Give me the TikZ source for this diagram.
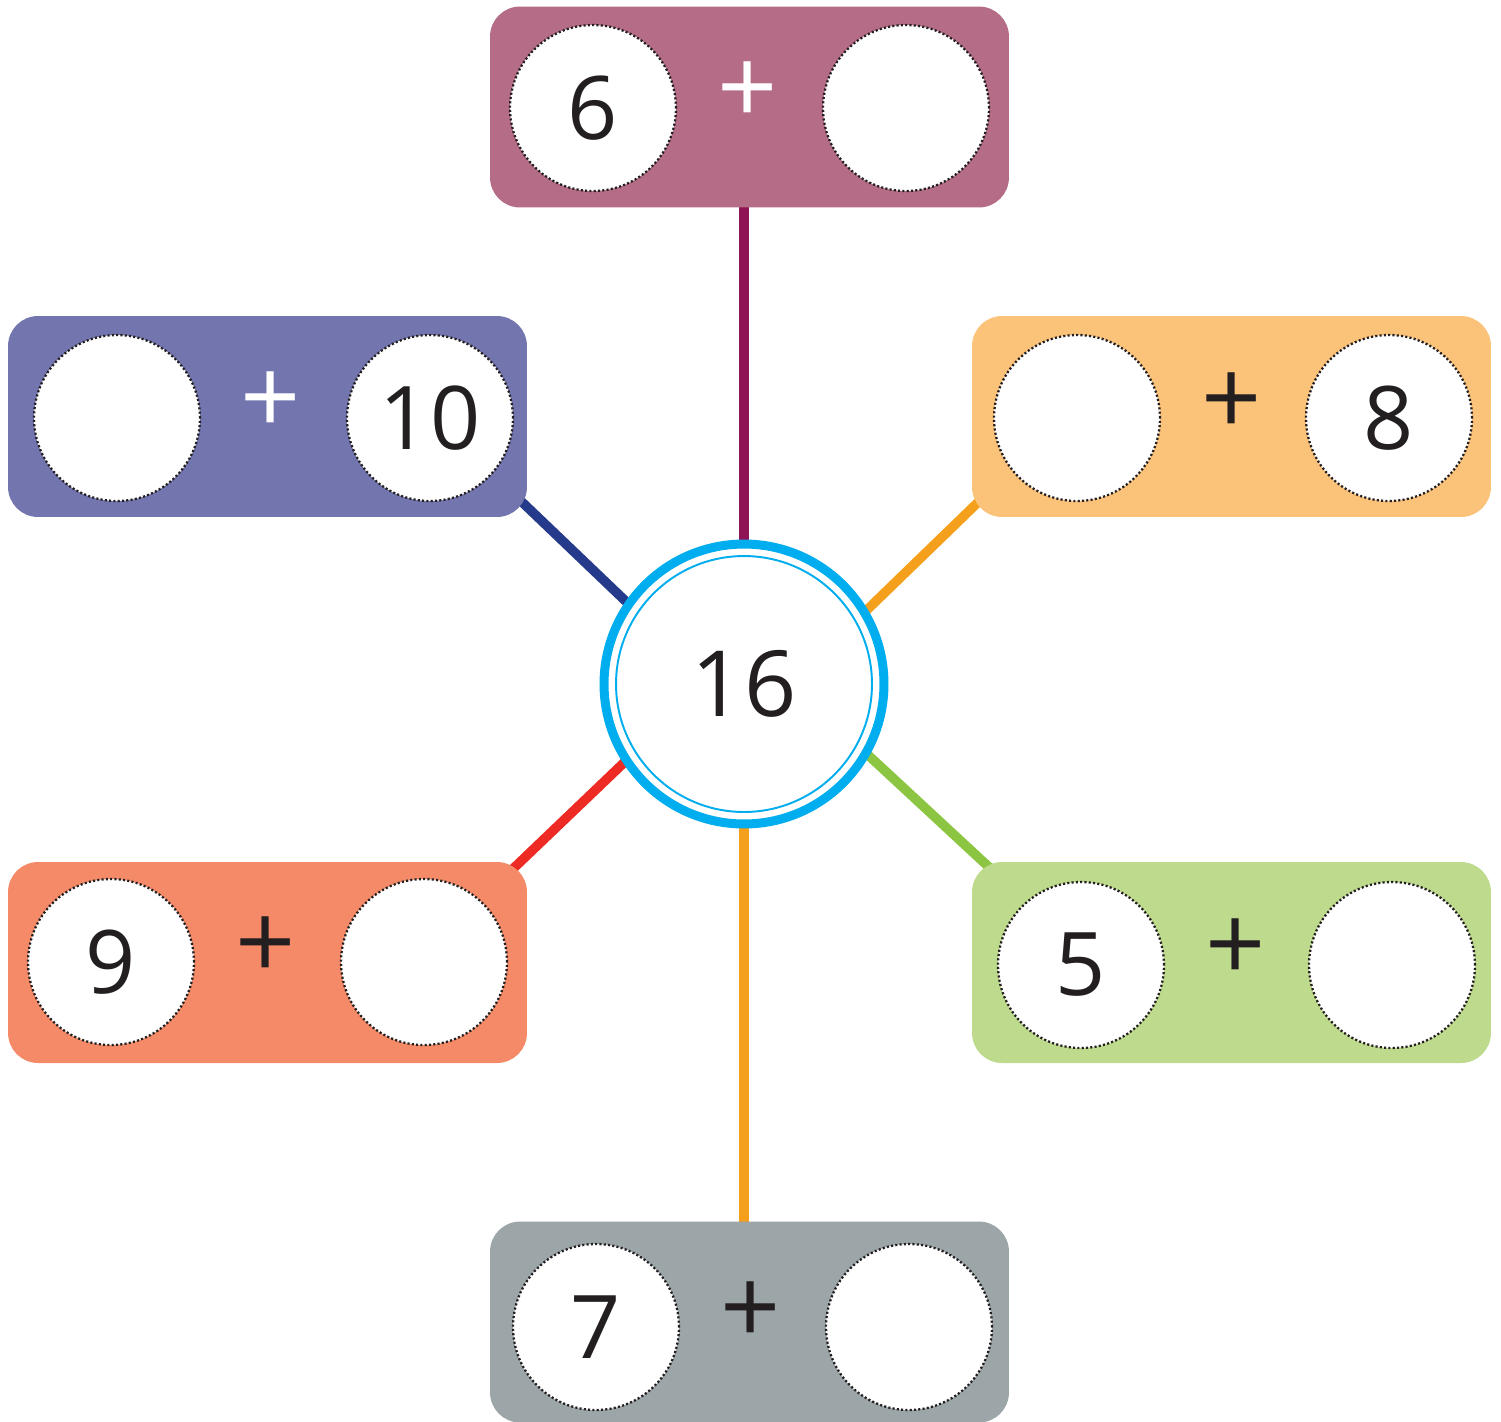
\documentclass[tikz,border=0pt]{standalone}
\usepackage{fontspec}
\setmainfont{Open Sans}
\usetikzlibrary{backgrounds}
\definecolor{boxtop}{HTML}{B56C87}
\definecolor{boxpurple}{HTML}{7375AE}
\definecolor{boxorange}{HTML}{FBC27A}
\definecolor{boxsalmon}{HTML}{F48A68}
\definecolor{boxgreen}{HTML}{BEDA8C}
\definecolor{boxgrey}{HTML}{9CA5A8}
\definecolor{linemag}{HTML}{8F1456}
\definecolor{linenavy}{HTML}{253A8A}
\definecolor{lineorange}{HTML}{F5A01D}
\definecolor{linered}{HTML}{EE2A24}
\definecolor{linegreen}{HTML}{8BC541}
\definecolor{ringblue}{HTML}{00AEEF}
\definecolor{ink}{HTML}{231F20}
\begin{document}
\begin{tikzpicture}[x=0.02cm,y=-0.02cm,
  sumbox/.style={rectangle, rounded corners=0.6cm, minimum width=10.38cm, minimum height=4.02cm, inner sep=0pt},
  slot/.style={circle, fill=white, draw=ink, minimum size=3.32cm, inner sep=0pt, line width=1.3pt, dash pattern=on 1.2pt off 1.25pt, text=ink, font=\fontsize{50}{60}\selectfont},
  plussign/.style={inner sep=0pt, font=\fontsize{60}{60}\selectfont},
  spoke/.style={line width=0.19cm}
]
\useasboundingbox (0,0) rectangle (1501,1421);

% boxes
\node[sumbox, fill=boxtop] (btop) at (749.5,107) {};
\node[sumbox, fill=boxpurple] (bpurple) at (267.5,416.5) {};
\node[sumbox, fill=boxorange] (borange) at (1231.5,416.5) {};
\node[sumbox, fill=boxsalmon] (bsalmon) at (267.5,962.5) {};
\node[sumbox, fill=boxgreen] (bgreen) at (1231.5,962.5) {};
\node[sumbox, fill=boxgrey] (bgrey) at (749.5,1322) {};

% slots and plus signs
\node[slot] (t1) at (593,108) {6};
\node[slot] (t2) at (906,108) {};
\node[plussign, text=white] (tp) at (748,93) {+};

\node[slot] (p1) at (117,418) {};
\node[slot] (p2) at (430,418) {10};
\node[plussign, text=white] (pp) at (271,403) {+};

\node[slot] (o1) at (1077,418) {};
\node[slot] (o2) at (1389,418) {8};
\node[plussign, text=ink] (op) at (1232,404) {+};

\node[slot] (s1) at (111,962) {9};
\node[slot] (s2) at (424,962) {};
\node[plussign, text=ink] (sp) at (266,948) {+};

\node[slot] (g1) at (1081,965) {5};
\node[slot] (g2) at (1392,965) {};
\node[plussign, text=ink] (gp) at (1236,950) {+};

\node[slot] (r1) at (596,1327) {7};
\node[slot] (r2) at (909,1327) {};
\node[plussign, text=ink] (rp) at (751,1313) {+};

% centre
\node[circle, fill=white, draw=ringblue, line width=0.18cm, minimum size=5.6cm, inner sep=0pt] (c) at (744,684) {};
\node[circle, draw=ringblue, line width=1.1pt, minimum size=5.12cm, inner sep=0pt, text=ink, font=\fontsize{52}{60}\selectfont] (cin) at (744,684) {16};

% spoke end points
\coordinate (navyA) at (660,634);
\coordinate (navyB) at (500,481);
\coordinate (orA) at (840,636);
\coordinate (orB) at (1000,481);
\coordinate (redA) at (655,733);
\coordinate (redB) at (495,886);
\coordinate (grA) at (840,729);
\coordinate (grB) at (1005,882);

\begin{scope}[on background layer]
  \draw[spoke, linemag] (c.center) -- (c.center |- btop.center);
  \draw[spoke, lineorange] (c.center) -- (c.center |- bgrey.center);
  \draw[spoke, linenavy] (navyA) -- (navyB);
  \draw[spoke, lineorange] (orA) -- (orB);
  \draw[spoke, linered] (redA) -- (redB);
  \draw[spoke, linegreen] (grA) -- (grB);
\end{scope}
\end{tikzpicture}
\end{document}
